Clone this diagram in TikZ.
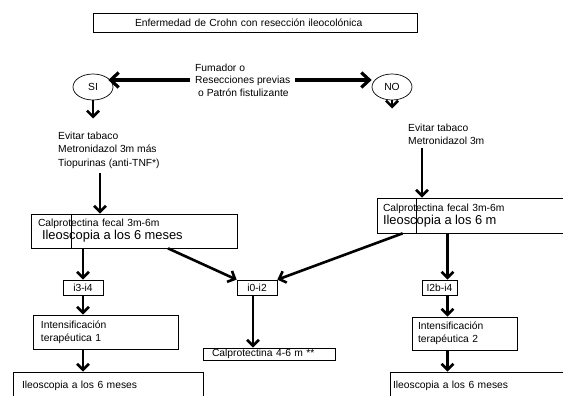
\documentclass[tikz,border=0pt]{standalone}
\usepackage{fontspec}
\setmainfont{Liberation Sans}
\usetikzlibrary{positioning, arrows.meta, shapes.geometric}

\newcommand{\ileofont}{\fontsize{12.9}{14}\selectfont}

\begin{document}
\begin{tikzpicture}[
        x=1pt, y=-1pt,
        font=\fontsize{10.3}{13}\selectfont,
        box/.style={draw, line width=0.7pt, inner ysep=0pt, align=left},
        tag/.style={draw, line width=0.7pt, minimum height=15pt, inner sep=0pt},
        answer/.style={draw, ellipse, line width=0.7pt, minimum width=40pt, minimum height=26pt, inner sep=0pt},
        arrow/.style={line width=2.6pt, -{Straight Barb[length=6pt,width=12pt]}},
        bigarrow/.style={line width=3.2pt, -{Straight Barb[length=8pt,width=15pt]}}
    ]
        \useasboundingbox (0,0) rectangle (563,396);
        \clip (0,0) rectangle (563,396);

        \node[box, minimum height=19pt, text width=240pt, inner xsep=42pt] (title) at (255,22.5) {Enfermedad de Crohn con resección ileocolónica};

        \node[answer] (si) at (93,87) {SI};
        \node[answer] (no) at (392,87) {NO};
        \node[align=left, inner sep=5pt, anchor=west, font=\fontsize{10.3}{12.5}\selectfont] (cond) at (190,80)
            {Fumador o\\Resecciones previas\\\hspace{3pt}o Patrón fistulizante};

        \node[align=left, inner xsep=0pt, inner ysep=4pt, anchor=north west, font=\fontsize{10.3}{13.5}\selectfont] (sitext) at (58,127.5)
            {Evitar tabaco\\Metronidazol 3m más\\Tiopurinas (anti-TNF*)};
        \node[align=left, inner xsep=0pt, inner ysep=4pt, anchor=north west] (notext) at (408,119.5)
            {Evitar tabaco\\Metronidazol 3m};

        \node[box, minimum height=34pt, text width=192pt, inner xsep=7pt] (box1) at (134,231)
            {Calprotectina fecal 3m-6m\\{\ileofont\hspace{4pt}Ileoscopia a los 6 meses}};
        \node[box, minimum height=35pt, text width=211pt, inner xsep=6pt] (box2) at (488.5,215.5)
            {Calprotectina fecal 3m-6m\\{\ileofont Ileoscopia a los 6 m}};

        \node[tag, minimum width=40pt] (i3i4) at (83,287.5) {i3-i4};
        \node[tag, minimum width=40pt] (i0i2) at (257,287.5) {i0-i2};
        \node[tag, minimum width=35pt] (i2bi4) at (439.5,287.5) {I2b-i4};

        \node[box, minimum height=34pt, text width=129pt, inner xsep=8pt] (int1) at (105.5,332)
            {Intensificación\\terapéutica 1};
        \node[box, minimum height=33pt, text width=93pt, inner xsep=6pt] (int2) at (464.5,333.5)
            {Intensificación\\terapéutica 2};
        \node[box, minimum height=12pt, text width=114pt, inner xsep=9pt] (calp) at (269,354)
            {Calprotectina 4-6 m **};

        \node[box, minimum height=28pt, text width=172pt, inner xsep=9pt] (ileo1) at (108,386)
            {Ileoscopia a los 6 meses};
        \node[box, minimum height=28pt, text width=204pt, inner xsep=3pt] (ileo2) at (495,386)
            {Ileoscopia a los 6 meses};

        % lineas sueltas dentro de las cajas
        \draw[line width=0.5pt] ([xshift=41pt]box1.north west) -- ([xshift=41pt]box1.south west);
        \draw[line width=0.5pt] ([xshift=40pt]box2.north west) -- ([xshift=40pt]box2.south west);

        \draw[bigarrow, shorten >=-5pt] (cond.west) -- (cond.west -| si.east);
        \draw[bigarrow] (cond.east) -- (cond.east -| no.west);

        \draw[arrow, shorten >=9pt] (si.south) -- (si.south |- sitext.north);
        \draw[arrow, shorten >=11pt] (no.south) -- (no.south |- notext.north);
        \draw[arrow] ([xshift=42pt]sitext.south west) -- ([xshift=42pt]sitext.south west |- box1.north);
        \draw[arrow] ([xshift=14pt]notext.south west) -- ([xshift=14pt]notext.south west |- box2.north);

        \draw[arrow] (box1.south -| i3i4.north) -- (i3i4.north);
        \draw[arrow] (i3i4.south) -- (int1.north -| i3i4.south);
        \draw[arrow] (int1.south -| i3i4.south) -- (ileo1.north -| i3i4.south);

        \draw[arrow] ([xshift=34pt]box1.south) -- (i0i2.north west);
        \draw[arrow] ([xshift=26pt]box2.south west) -- (i0i2.north east);
        \draw[arrow] ([xshift=-4pt]i0i2.south) -- ([xshift=-4pt]calp.north -| i0i2.south);

        \draw[arrow] ([xshift=8pt]box2.south -| i2bi4.north) -- ([xshift=8pt]i2bi4.north);
        \draw[arrow] ([xshift=8pt]i2bi4.south) -- ([xshift=8pt]int2.north -| i2bi4.south);
        \draw[arrow] ([xshift=8pt]int2.south -| i2bi4.south) -- ([xshift=8pt]ileo2.north -| i2bi4.south);
    \end{tikzpicture}
\end{document}
